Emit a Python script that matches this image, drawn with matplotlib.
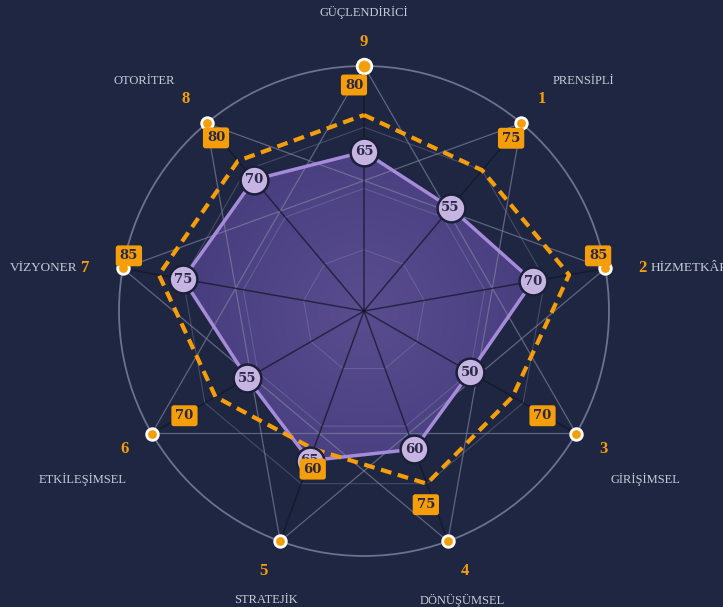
import matplotlib.pyplot as plt
import numpy as np
from matplotlib.patches import Polygon, Circle

# data
axis_names = ['GÜÇLENDİRİCİ', 'PRENSİPLİ', 'HİZMETKÂR', 'GİRİŞİMSEL', 'DÖNÜŞÜMSEL',
              'STRATEJİK', 'ETKİLEŞİMSEL', 'VİZYONER', 'OTORİTER']
axis_numbers = ['9', '1', '2', '3', '4', '5', '6', '7', '8']
current = [65, 55, 70, 50, 60, 65, 55, 75, 70]
target = [80, 75, 85, 70, 75, 60, 70, 85, 80]

# label offsets (px) for the target value boxes
target_offsets = [(-10, 30), (29, 32), (29, 19), (30, -19), (-1, -21),
                  (-1, -20), (-31, -19), (-30, 19), (-22, 23)]

BG = '#1e2641'
ORANGE = '#f59e0b'
PURPLE = '#a78bdb'
LAVENDER = '#c6b5e3'
TXT_DARK = '#2b2846'
SERIF = ['Liberation Serif', 'DejaVu Serif']
BOLDSERIF = ['DejaVu Serif']
PT = 1.389  # px per point at 100 dpi

PX = 2.45  # pixels per unit (100 = outer circle)
fig = plt.figure(figsize=(7.23, 6.07), dpi=100, facecolor=BG)
ax = fig.add_axes([0, 0, 1, 1])
ax.set_facecolor(BG)
ax.set_xlim(-364 / PX, 359 / PX)
ax.set_ylim(-296 / PX, 311 / PX)
ax.set_aspect('equal')
ax.axis('off')

n = len(axis_names)
theta = np.deg2rad(np.arange(n) * 360 / n)


def xy(r, t):
    return r * np.sin(t), r * np.cos(t)


# filled area with a soft radial gradient
cx, cy = xy(np.array(current), theta)
poly = Polygon(np.column_stack([cx, cy]), closed=True, facecolor='none', edgecolor='none')
ax.add_patch(poly)
gx, gy = np.meshgrid(np.linspace(-100, 100, 300), np.linspace(-100, 100, 300))
rr = np.clip(np.sqrt(gx ** 2 + gy ** 2) / 80, 0, 1)[..., None]
c0 = np.array([0x59, 0x4d, 0x90]) / 255
c1 = np.array([0x46, 0x3c, 0x7c]) / 255
img = c0[None, None, :] * (1 - rr) + c1[None, None, :] * rr
im = ax.imshow(img, extent=[-100, 100, -100, 100], origin='lower', zorder=1)
im.set_clip_path(poly)

# grid polygons
for lev in [25, 50, 75]:
    px_, py_ = xy(np.full(n + 1, lev), np.append(theta, theta[0]))
    ax.plot(px_, py_, color='#8a8fb0', lw=0.8, alpha=0.35, zorder=2)

# outer circle
ax.add_patch(Circle((0, 0), 100, fill=False, edgecolor='#6b7190', lw=1.3, zorder=2))

# triangles joining outer points
ox, oy = xy(np.full(n, 100), theta)
for k in range(3):
    idx = [k, k + 3, k + 6, k]
    ax.plot(ox[idx], oy[idx], color='#7b809c', lw=0.9, alpha=0.7, zorder=2)

# spokes
for i in range(n):
    ax.plot([0, ox[i]], [0, oy[i]], color='#121526', lw=1.1, alpha=0.7, zorder=3)

# current outline
ax.plot(np.append(cx, cx[0]), np.append(cy, cy[0]), color=PURPLE, lw=2.5, zorder=4)

# target dashed line
tx, ty = xy(np.array(target), theta)
ax.plot(np.append(tx, tx[0]), np.append(ty, ty[0]), color=ORANGE, lw=3,
        linestyle=(0, (2.6, 1.6)), zorder=5)

# current value markers
for i in range(n):
    ax.scatter(cx[i], cy[i], s=400, color=LAVENDER, edgecolors='#1b2038', linewidths=1.8, zorder=6)
    ax.text(cx[i], cy[i], str(current[i]), ha='center', va='center', fontsize=9.5,
            fontweight='bold', color=TXT_DARK, family=BOLDSERIF, zorder=7)

# outer dots
for i in range(n):
    size = 110 if i == 0 else 70
    ax.scatter(ox[i], oy[i], s=size, color=ORANGE, edgecolors='white', linewidths=2, zorder=8)

# target value boxes
for i in range(n):
    ax.annotate(str(target[i]), (tx[i], ty[i]),
                xytext=(target_offsets[i][0] / PT, target_offsets[i][1] / PT),
                textcoords='offset points', ha='center', va='center', fontsize=9.5,
                fontweight='bold', color=TXT_DARK, family=BOLDSERIF, zorder=9,
                bbox=dict(boxstyle='round,pad=0.3,rounding_size=0.2', fc=ORANGE, ec='none'))

# axis numbers and names
for i in range(n):
    s, c = np.sin(theta[i]), np.cos(theta[i])
    if abs(c) < 0.3:
        nx, ny = 115.5 * s, oy[i]
        ax.text(nx, ny, axis_numbers[i], ha='center', va='center', fontsize=12,
                fontweight='bold', color=ORANGE, family=SERIF)
        side = 1 if s > 0 else -1
        ax.annotate(axis_names[i], (nx, ny), xytext=(side * 6, 0), textcoords='offset points',
                    ha='left' if side > 0 else 'right', va='center', fontsize=9.5,
                    color='#c9ccd8', family=SERIF)
    else:
        nx, ny = xy(113, theta[i])
        if i == 0:
            ny -= 3
        elif abs(s) < 0.5:
            nx += 2.5 * np.sign(s)
        ax.text(nx, ny, axis_numbers[i], ha='center', va='center', fontsize=12,
                fontweight='bold', color=ORANGE, family=SERIF)
        if i == 0:
            dx, dy = 0, 29
        elif abs(s) > 0.5:
            dx, dy = 42 * np.sign(s), (18 if c > 0 else -30)
        else:
            dx, dy = -3 * np.sign(s), -29
        ax.annotate(axis_names[i], (nx, ny), xytext=(dx / PT, dy / PT), textcoords='offset points',
                    ha='center', va='center', fontsize=9, color='#c9ccd8', family=SERIF)

fig.savefig('out.png', dpi=100, facecolor=BG)
